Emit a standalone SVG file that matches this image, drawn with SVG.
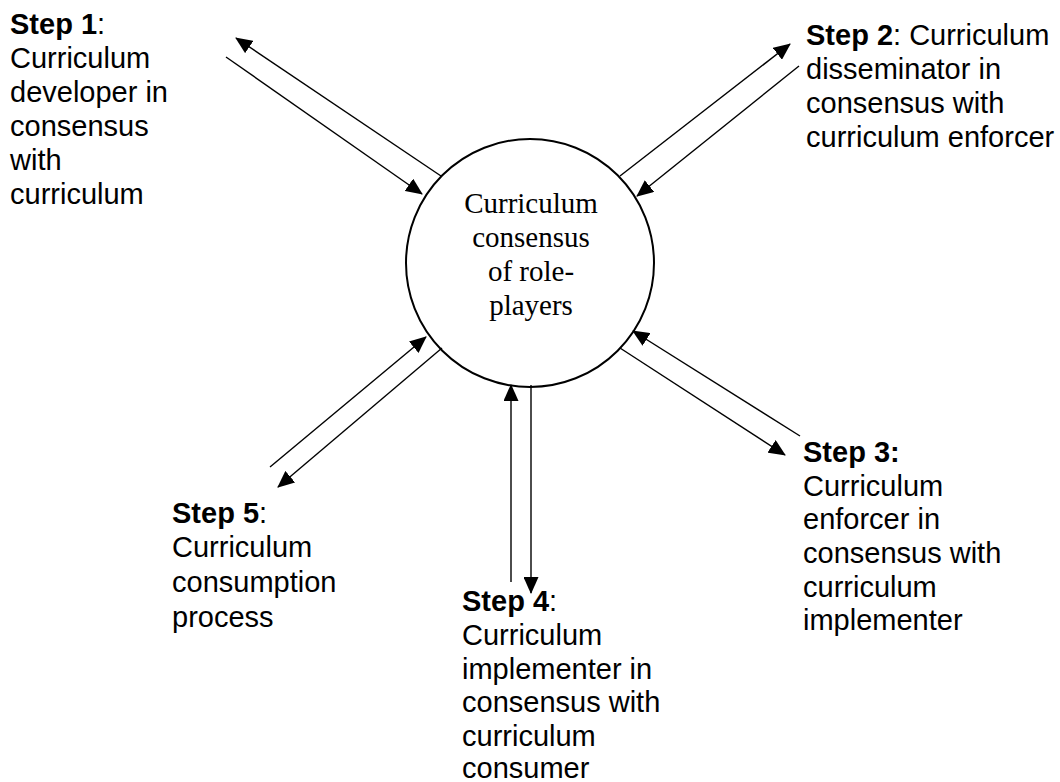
<svg xmlns="http://www.w3.org/2000/svg" width="1060" height="782" viewBox="0 0 1060 782">
<style>
.lbl{font-family:"Liberation Sans",Arial,sans-serif;font-size:29px;fill:#000}
.b{font-weight:bold}
.ctr{font-family:"Liberation Serif","Times New Roman",serif;font-size:29px;fill:#000;text-anchor:middle}
.con line{stroke:#000;stroke-width:1.4;fill:none;marker-end:url(#ah)}
</style>
<defs>
<marker id="ah" markerUnits="userSpaceOnUse" markerWidth="18" markerHeight="15" refX="16" refY="7.5" orient="auto">
<path d="M0,0 L17,7.5 L0,15 z" fill="#000"/>
</marker>
</defs>
<rect width="1060" height="782" fill="#fff"/>
<g id="center">
<circle cx="530" cy="263" r="124" fill="#fff" stroke="#000" stroke-width="2"/>
<text class="ctr"><tspan x="531" y="213">Curriculum</tspan><tspan x="531" y="247">consensus</tspan><tspan x="531" y="281">of role-</tspan><tspan x="531" y="315">players</tspan></text>
</g>
<g id="connectors" class="con">
<line x1="441" y1="176" x2="236" y2="38"/>
<line x1="226" y1="57" x2="422" y2="194"/>
<line x1="620" y1="176" x2="790" y2="44"/>
<line x1="799" y1="66" x2="637" y2="196"/>
<line x1="800" y1="436" x2="633" y2="331"/>
<line x1="620" y1="348" x2="785" y2="455"/>
<line x1="511" y1="582" x2="511" y2="385"/>
<line x1="531" y1="385" x2="531" y2="593"/>
<line x1="270" y1="467" x2="426" y2="337"/>
<line x1="442" y1="348" x2="278" y2="487"/>
</g>
<g id="step1">
<text class="lbl"><tspan x="10" y="34"><tspan class="b">Step 1</tspan>:</tspan><tspan x="10" y="68">Curriculum</tspan><tspan x="10" y="102">developer in</tspan><tspan x="10" y="136">consensus</tspan><tspan x="10" y="170">with</tspan><tspan x="10" y="204">curriculum</tspan></text>
</g>
<g id="step2">
<text class="lbl"><tspan x="806" y="45"><tspan class="b">Step 2</tspan>: Curriculum</tspan><tspan x="806" y="79">disseminator in</tspan><tspan x="806" y="113">consensus with</tspan><tspan x="806" y="147">curriculum enforcer</tspan></text>
</g>
<g id="step3">
<text class="lbl"><tspan x="803" y="462" class="b">Step 3:</tspan><tspan x="803" y="496">Curriculum</tspan><tspan x="803" y="529">enforcer in</tspan><tspan x="803" y="563">consensus with</tspan><tspan x="803" y="597">curriculum</tspan><tspan x="803" y="630">implementer</tspan></text>
</g>
<g id="step4">
<text class="lbl"><tspan x="462" y="611"><tspan class="b">Step 4</tspan>:</tspan><tspan x="462" y="645">Curriculum</tspan><tspan x="462" y="679">implementer in</tspan><tspan x="462" y="712">consensus with</tspan><tspan x="462" y="746">curriculum</tspan><tspan x="462" y="778">consumer</tspan></text>
</g>
<g id="step5">
<text class="lbl"><tspan x="172" y="523"><tspan class="b">Step 5</tspan>:</tspan><tspan x="172" y="557">Curriculum</tspan><tspan x="172" y="592">consumption</tspan><tspan x="172" y="627">process</tspan></text>
</g>
</svg>
